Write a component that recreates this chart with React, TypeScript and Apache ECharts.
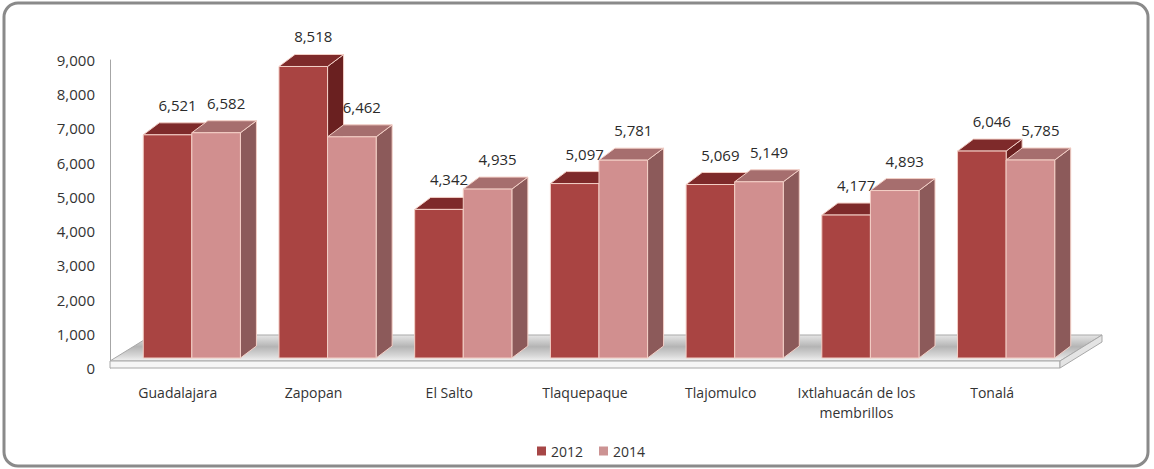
import React, { useEffect, useRef } from "react";
import * as echarts from "echarts";

const categories = [
  "Guadalajara",
  "Zapopan",
  "El Salto",
  "Tlaquepaque",
  "Tlajomulco",
  "Ixtlahuacán de los\nmembrillos",
  "Tonalá",
];
const values2012 = [6521, 8518, 4342, 5097, 5069, 4177, 6046];
const values2014 = [6582, 6462, 4935, 5781, 5149, 4893, 5785];
const seriesNames = ["2012", "2014"];
const yMin = 0;
const yMax = 9000;
const yInterval = 1000;

const FONT = "'Open Sans', 'Noto Sans', sans-serif";

const palettes = [
  { front: "#A94442", top: "#7E2A2A", side: "#6A2020", legend: "#A64646" },
  { front: "#D18F8F", top: "#A66E6E", side: "#8C5A5A", legend: "#CC9393" },
];

const fmt = (v: number) => v.toLocaleString("en-US");

function barRenderer(slot: number) {
  const pal = palettes[slot];
  return (params: any, api: any) => {
    const idx = api.value(0);
    const val = api.value(1);
    const band = api.size([1, 0])[0];
    const top0 = api.coord([idx, val]);
    const base0 = api.coord([idx, 0]);
    const cx = top0[0];
    const shiftX = band * 0.103;
    const shiftY = -10;
    const w = band * 0.358;
    const dx = band * 0.118;
    const dy = -12;
    const x0 = cx + shiftX - w + slot * w;
    const x1 = x0 + w;
    const yb = base0[1] + shiftY;
    const yt = top0[1] + shiftY;
    const edge = { stroke: "#F3CFC6", lineWidth: 1 };
    return {
      type: "group",
      children: [
        {
          type: "polygon",
          shape: { points: [[x1, yt], [x1 + dx, yt + dy], [x1 + dx, yb + dy], [x1, yb]] },
          style: { fill: pal.side, ...edge },
        },
        {
          type: "polygon",
          shape: { points: [[x0, yt], [x0 + dx, yt + dy], [x1 + dx, yt + dy], [x1, yt]] },
          style: { fill: pal.top, ...edge },
        },
        {
          type: "polygon",
          shape: { points: [[x0, yt], [x1, yt], [x1, yb], [x0, yb]] },
          style: { fill: pal.front, ...edge },
        },
        {
          type: "text",
          x: (x0 + x1) / 2 + 10,
          y: yt - 30,
          z2: 10,
          style: {
            text: fmt(val),
            align: "center",
            verticalAlign: "middle",
            fill: "#2b2b2b",
            font: `15px ${FONT}`,
          },
        },
      ],
    };
  };
}

function floorRenderer(params: any, api: any) {
  const cs = params.coordSys;
  const L = cs.x;
  const R = cs.x + cs.width;
  const B = cs.y + cs.height;
  const ddx = 42;
  const ddy = -26;
  const t = 7;
  const grad = new echarts.graphic.LinearGradient(0, 0, 0, 1, [
    { offset: 0, color: "#e6e6e6" },
    { offset: 0.45, color: "#b4b4b4" },
    { offset: 0.8, color: "#d8d8d8" },
    { offset: 1, color: "#f2f2f2" },
  ]);
  return {
    type: "group",
    children: [
      {
        type: "polygon",
        shape: { points: [[L, B - t], [R, B - t], [R + ddx, B - t + ddy], [L + ddx, B - t + ddy]] },
        style: { fill: grad, stroke: "#a8a8a8", lineWidth: 1 },
      },
      {
        type: "polygon",
        shape: { points: [[L, B - t], [R, B - t], [R, B], [L, B]] },
        style: { fill: "#f6f6f6", stroke: "#a8a8a8", lineWidth: 1 },
      },
      {
        type: "polygon",
        shape: { points: [[R, B - t], [R + ddx, B - t + ddy], [R + ddx, B + ddy], [R, B]] },
        style: { fill: "#e4e4e4", stroke: "#a8a8a8", lineWidth: 1 },
      },
    ],
  };
}

export default function App() {
  const ref = useRef<HTMLDivElement>(null);
  useEffect(() => {
    if (!ref.current) return;
    const chart = echarts.init(ref.current, null, { renderer: "svg" });
    chart.setOption({
      animation: false,
      backgroundColor: "#ffffff",
      graphic: [
        {
          type: "rect",
          shape: { x: 4, y: 3, width: 1144, height: 463, r: 14 },
          style: { fill: "none", stroke: "#8a8a8a", lineWidth: 3 },
          z: 100,
        },
      ],
      grid: { left: 110, right: 94, top: 60, bottom: 101 },
      legend: {
        data: seriesNames,
        left: 532,
        top: 439,
        icon: "rect",
        itemWidth: 9,
        itemHeight: 9,
        itemGap: 16,
        textStyle: { fontFamily: FONT, fontSize: 14, color: "#333" },
      },
      xAxis: {
        type: "category",
        data: categories,
        axisLine: { show: false },
        axisTick: { show: false },
        axisLabel: {
          interval: 0,
          margin: 14,
          fontFamily: FONT,
          fontSize: 14,
          lineHeight: 20,
          color: "#333",
        },
      },
      yAxis: {
        type: "value",
        min: yMin,
        max: yMax,
        interval: yInterval,
        axisLine: { show: true, lineStyle: { color: "#a6a6a6", width: 1 } },
        axisTick: { show: false },
        splitLine: { show: false },
        axisLabel: {
          margin: 15,
          fontFamily: FONT,
          fontSize: 15,
          color: "#333",
          formatter: (v: number) => fmt(v),
        },
      },
      series: [
        {
          type: "custom",
          name: "floor",
          renderItem: floorRenderer,
          data: [[0, 0]],
          z: 1,
          silent: true,
        },
        {
          type: "custom",
          name: seriesNames[0],
          renderItem: barRenderer(0),
          itemStyle: { color: palettes[0].legend },
          data: values2012.map((v, i) => [i, v]),
          z: 2,
        },
        {
          type: "custom",
          name: seriesNames[1],
          renderItem: barRenderer(1),
          itemStyle: { color: palettes[1].legend },
          data: values2014.map((v, i) => [i, v]),
          z: 3,
        },
      ],
    });
    return () => chart.dispose();
  }, []);
  return (
    <div
      ref={ref}
      style={{ position: "fixed", left: 0, top: 0, width: 1154, height: 469 }}
    />
  );
}
